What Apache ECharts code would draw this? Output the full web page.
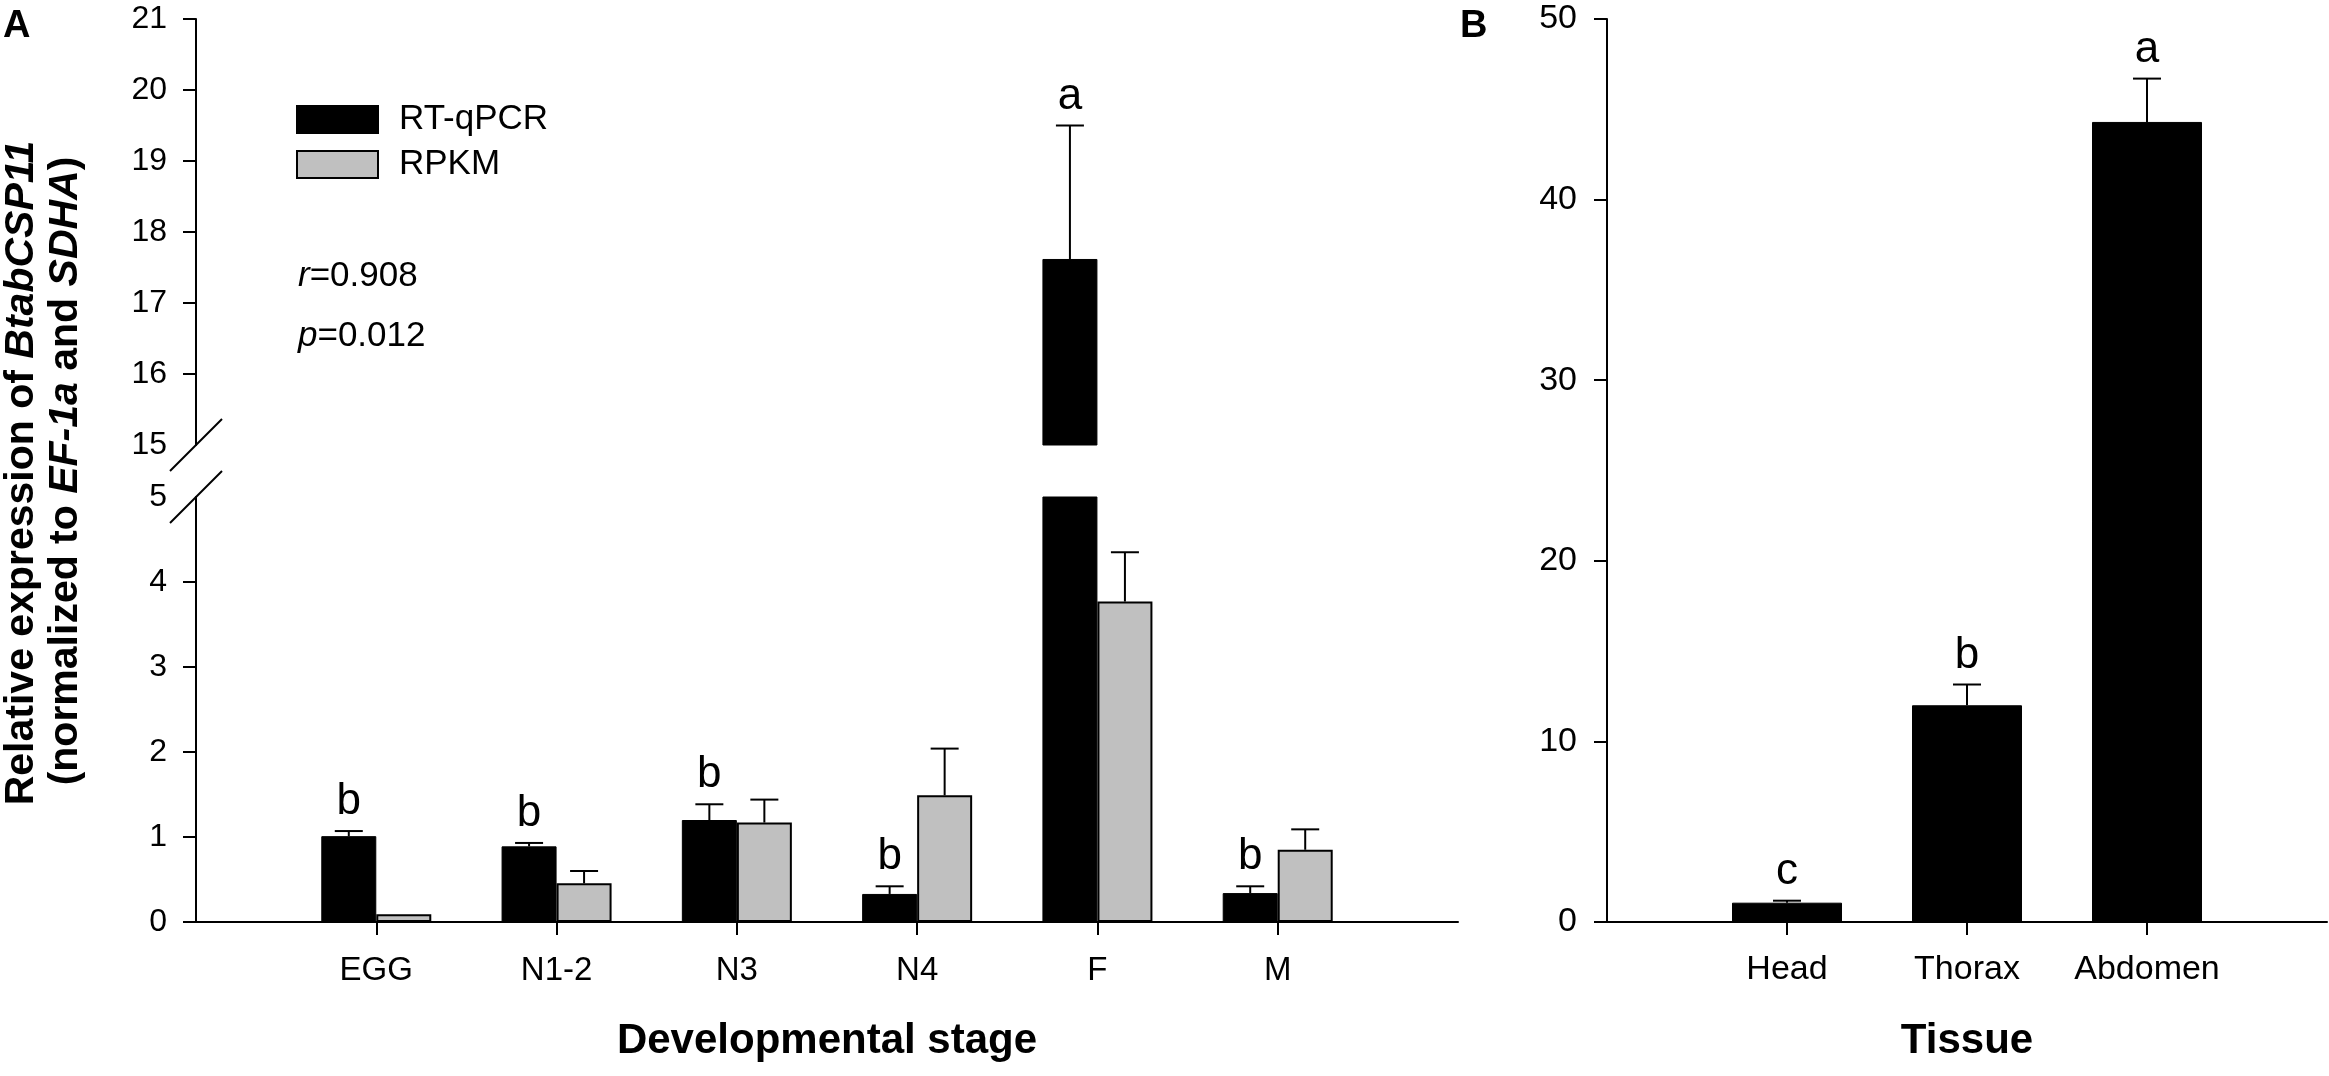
<!DOCTYPE html>
<html>
<head>
<meta charset="utf-8">
<script src="https://cdn.jsdelivr.net/npm/echarts@6/dist/echarts.min.js"></script>
<style>
html,body{margin:0;padding:0;background:#fff;}
#main{width:2329px;height:1076px;}
</style>
</head>
<body>
<div id="main"></div>
<script>
// ---- data ----
const stages = ['EGG', 'N1-2', 'N3', 'N4', 'F', 'M'];
const rtqpcr = [1.01, 0.89, 1.20, 0.33, 17.62, 0.34];
const rtqpcrErrTop = [1.07, 0.93, 1.385, 0.42, 19.5, 0.42];
const rpkm = [0.09, 0.455, 1.17, 1.49, 3.77, 0.85];
const rpkmErrTop = [0.09, 0.60, 1.44, 2.04, 4.35, 1.09];
const stageLetters = ['b', 'b', 'b', 'b', 'a', 'b'];

const tissues = ['Head', 'Thorax', 'Abdomen'];
const tissueExpr = [1.07, 12.0, 44.3];
const tissueErrTop = [1.18, 13.15, 46.7];
const tissueLetters = ['c', 'b', 'a'];

const upperTicks = [15, 16, 17, 18, 19, 20, 21];
const lowerTicks = [0, 1, 2, 3, 4, 5];
const tissueTicks = [0, 10, 20, 30, 40, 50];

// ---- helpers ----
const FONT = '"Liberation Sans", Arial, sans-serif';
const stageAxis = [''].concat(stages, [' ']);
const tissueAxis = [''].concat(tissues, [' ']);
const UPPER_MIN = upperTicks[0], UPPER_MAX = upperTicks[upperTicks.length - 1];
const LOWER_MIN = lowerTicks[0], LOWER_MAX = lowerTicks[lowerTicks.length - 1];

function pad(arr) { return ['-'].concat(arr, ['-']); }

function errItems(vals, tops, letters, lo, hi) {
  const data = [], labs = [];
  vals.forEach((v, i) => {
    if (tops[i] >= lo && tops[i] <= hi && v <= hi) {
      data.push([i + 1, v, tops[i]]);
      labs.push(letters ? letters[i] : '');
    }
  });
  return { data, labs };
}

function errSeries(name, items, offset, xi, yi) {
  return {
    type: 'custom', name: name + '-err', xAxisIndex: xi, yAxisIndex: yi, z: 5,
    clip: false, silent: true,
    data: items.data,
    renderItem: function (params, api) {
      const idx = api.value(0);
      const base = api.coord([idx, api.value(1)]);
      const top = api.coord([idx, api.value(2)]);
      const x = base[0] + offset;
      const children = [];
      if (api.value(2) > api.value(1)) {
        children.push({ type: 'line', shape: { x1: x, y1: base[1], x2: x, y2: top[1] }, style: { stroke: '#000', lineWidth: 2 } });
        children.push({ type: 'line', shape: { x1: x - 14, y1: top[1], x2: x + 14, y2: top[1] }, style: { stroke: '#000', lineWidth: 2 } });
      }
      const lab = items.labs[params.dataIndex];
      if (lab) {
        children.push({ type: 'text', x: x, y: top[1] - 7, style: { text: lab, fill: '#000', font: '44px ' + FONT, align: 'center', verticalAlign: 'bottom' } });
      }
      return { type: 'group', children: children };
    }
  };
}

const GA_L = 196, GA_W = 1262;
const grids = [
  { left: GA_L, top: 19, width: GA_W, height: 426, containLabel: false, outerBoundsMode: 'none' },
  { left: GA_L, top: 497, width: GA_W, height: 425, containLabel: false, outerBoundsMode: 'none' },
  { left: 1607, top: 19, width: 720, height: 903, containLabel: false, outerBoundsMode: 'none' }
];

const axisLineStyle = { color: '#000', width: 2 };
const tickFilter = function (index, value) { return value !== '' && value !== ' '; };

const xAxes = [
  { gridIndex: 0, type: 'category', data: stageAxis, boundaryGap: false, show: false },
  {
    gridIndex: 1, type: 'category', data: stageAxis, boundaryGap: false,
    axisLine: { lineStyle: axisLineStyle },
    axisTick: { show: true, length: 13, interval: tickFilter, lineStyle: { color: '#000', width: 2 } },
    axisLabel: { interval: 0, margin: 32, color: '#000', fontSize: 33, fontFamily: FONT },
    splitLine: { show: false },
    name: 'Developmental stage', nameLocation: 'middle', nameGap: 98,
    nameTextStyle: { fontSize: 42, fontWeight: 'bold', color: '#000', fontFamily: FONT }
  },
  {
    gridIndex: 2, type: 'category', data: tissueAxis, boundaryGap: false,
    axisLine: { lineStyle: axisLineStyle },
    axisTick: { show: true, length: 13, interval: tickFilter, lineStyle: { color: '#000', width: 2 } },
    axisLabel: { interval: 0, margin: 31, color: '#000', fontSize: 34, fontFamily: FONT },
    splitLine: { show: false },
    name: 'Tissue', nameLocation: 'middle', nameGap: 98,
    nameTextStyle: { fontSize: 42, fontWeight: 'bold', color: '#000', fontFamily: FONT }
  }
];

const yAxes = [
  {
    gridIndex: 0, type: 'value', min: UPPER_MIN, max: UPPER_MAX, interval: 1,
    axisLine: { show: true, lineStyle: axisLineStyle },
    axisTick: { show: true, length: 13, customValues: upperTicks.slice(1), lineStyle: { color: '#000', width: 2 } },
    axisLabel: { margin: 29, color: '#000', fontSize: 32, fontFamily: FONT, customValues: upperTicks },
    splitLine: { show: false }
  },
  {
    gridIndex: 1, type: 'value', min: LOWER_MIN, max: LOWER_MAX, interval: 1,
    axisLine: { show: true, lineStyle: axisLineStyle },
    axisTick: { show: true, length: 13, customValues: lowerTicks.slice(0, -1), lineStyle: { color: '#000', width: 2 } },
    axisLabel: { margin: 29, color: '#000', fontSize: 32, fontFamily: FONT, customValues: lowerTicks },
    splitLine: { show: false }
  },
  {
    gridIndex: 2, type: 'value', min: 0, max: 50, interval: 10,
    axisLine: { show: true, lineStyle: axisLineStyle },
    axisTick: { show: true, length: 13, lineStyle: { color: '#000', width: 2 } },
    axisLabel: { margin: 30, color: '#000', fontSize: 34, fontFamily: FONT, customValues: tissueTicks },
    splitLine: { show: false }
  }
];

const blackStyle = { color: '#000000', borderColor: '#000000', borderWidth: 1 };
const grayStyle = { color: '#c0c0c0', borderColor: '#000000', borderWidth: 2 };
const BW = 55;

const series = [
  // lower panel A
  { name: 'RT-qPCR', type: 'bar', xAxisIndex: 1, yAxisIndex: 1, data: pad(rtqpcr), barWidth: BW, barGap: '0%', itemStyle: blackStyle, clip: true },
  { name: 'RPKM', type: 'bar', xAxisIndex: 1, yAxisIndex: 1, data: pad(rpkm), barWidth: BW, barGap: '0%', itemStyle: grayStyle, clip: true },
  // upper panel A (only values above the break)
  { name: 'RT-qPCR', type: 'bar', xAxisIndex: 0, yAxisIndex: 0, data: pad(rtqpcr.map(v => v > UPPER_MIN ? v : '-')), barWidth: BW, barGap: '0%', itemStyle: blackStyle, clip: true },
  { name: 'RPKM', type: 'bar', xAxisIndex: 0, yAxisIndex: 0, data: pad(rpkm.map(v => v > UPPER_MIN ? v : '-')), barWidth: BW, barGap: '0%', itemStyle: grayStyle, clip: true },
  // panel B
  { name: 'Tissue', type: 'bar', xAxisIndex: 2, yAxisIndex: 2, data: pad(tissueExpr), barWidth: 110, itemStyle: blackStyle },
  errSeries('rtq-low', errItems(rtqpcr, rtqpcrErrTop, stageLetters, LOWER_MIN, LOWER_MAX), -BW / 2, 1, 1),
  errSeries('rpkm-low', errItems(rpkm, rpkmErrTop, null, LOWER_MIN, LOWER_MAX), BW / 2, 1, 1),
  errSeries('rtq-up', errItems(rtqpcr, rtqpcrErrTop, stageLetters, UPPER_MIN, UPPER_MAX), -BW / 2, 0, 0),
  errSeries('tissue', errItems(tissueExpr, tissueErrTop, tissueLetters, 0, 50), 0, 2, 2)
];

const chart = echarts.init(document.getElementById('main'), null, { renderer: 'canvas' });
chart.setOption({
  animation: false,
  backgroundColor: '#ffffff',
  grid: grids,
  xAxis: xAxes,
  yAxis: yAxes,
  legend: {
    data: ['RT-qPCR', 'RPKM'], left: 296, top: 102, orient: 'vertical', icon: 'rect',
    itemWidth: 81, itemHeight: 27, itemGap: 10, selectedMode: false, padding: 0,
    textStyle: { fontSize: 35, color: '#000', fontFamily: FONT, padding: [0, 0, 0, 16] }
  },
  series: series
});

// break marks and annotations positioned from the axes
const brkTop = chart.convertToPixel({ gridIndex: 0 }, [0, UPPER_MIN]);
const brkBot = chart.convertToPixel({ gridIndex: 1 }, [0, LOWER_MAX]);
const axX = grids[0].left;
function slash(y) {
  return { type: 'line', shape: { x1: axX - 26, y1: y + 26, x2: axX + 26, y2: y - 26 }, style: { stroke: '#000', lineWidth: 2 }, z: 100 };
}
const richTitle = {
  b: { fontSize: 41, fontWeight: 'bold', fontFamily: FONT, fill: '#000' },
  bi: { fontSize: 41, fontWeight: 'bold', fontStyle: 'italic', fontFamily: FONT, fill: '#000' }
};
const richAnn = {
  n: { fontSize: 35, fontFamily: FONT, fill: '#000' },
  i: { fontSize: 35, fontStyle: 'italic', fontFamily: FONT, fill: '#000' }
};
chart.setOption({
  graphic: [
    slash(brkTop[1]),
    slash(brkBot[1]),
    { type: 'text', x: 22, y: 473, rotation: Math.PI / 2, z: 100,
      style: { text: '{b|Relative expression of }{bi|BtabCSP11}', rich: richTitle, align: 'center', verticalAlign: 'middle' } },
    { type: 'text', x: 66, y: 471, rotation: Math.PI / 2, z: 100,
      style: { text: '{b|(normalized to }{bi|EF-1a}{b| and }{bi|SDHA}{b|)}', rich: richTitle, align: 'center', verticalAlign: 'middle' } },
    { type: 'text', x: 298, y: 276, z: 100,
      style: { text: '{i|r}{n|=0.908}', rich: richAnn, align: 'left', verticalAlign: 'middle' } },
    { type: 'text', x: 298, y: 336, z: 100,
      style: { text: '{i|p}{n|=0.012}', rich: richAnn, align: 'left', verticalAlign: 'middle' } },
    { type: 'text', x: 3, y: 27, z: 100,
      style: { text: 'A', font: 'bold 38px ' + FONT, fill: '#000', align: 'left', verticalAlign: 'middle' } },
    { type: 'text', x: 1460, y: 27, z: 100,
      style: { text: 'B', font: 'bold 38px ' + FONT, fill: '#000', align: 'left', verticalAlign: 'middle' } }
  ]
});
</script>
</body>
</html>
